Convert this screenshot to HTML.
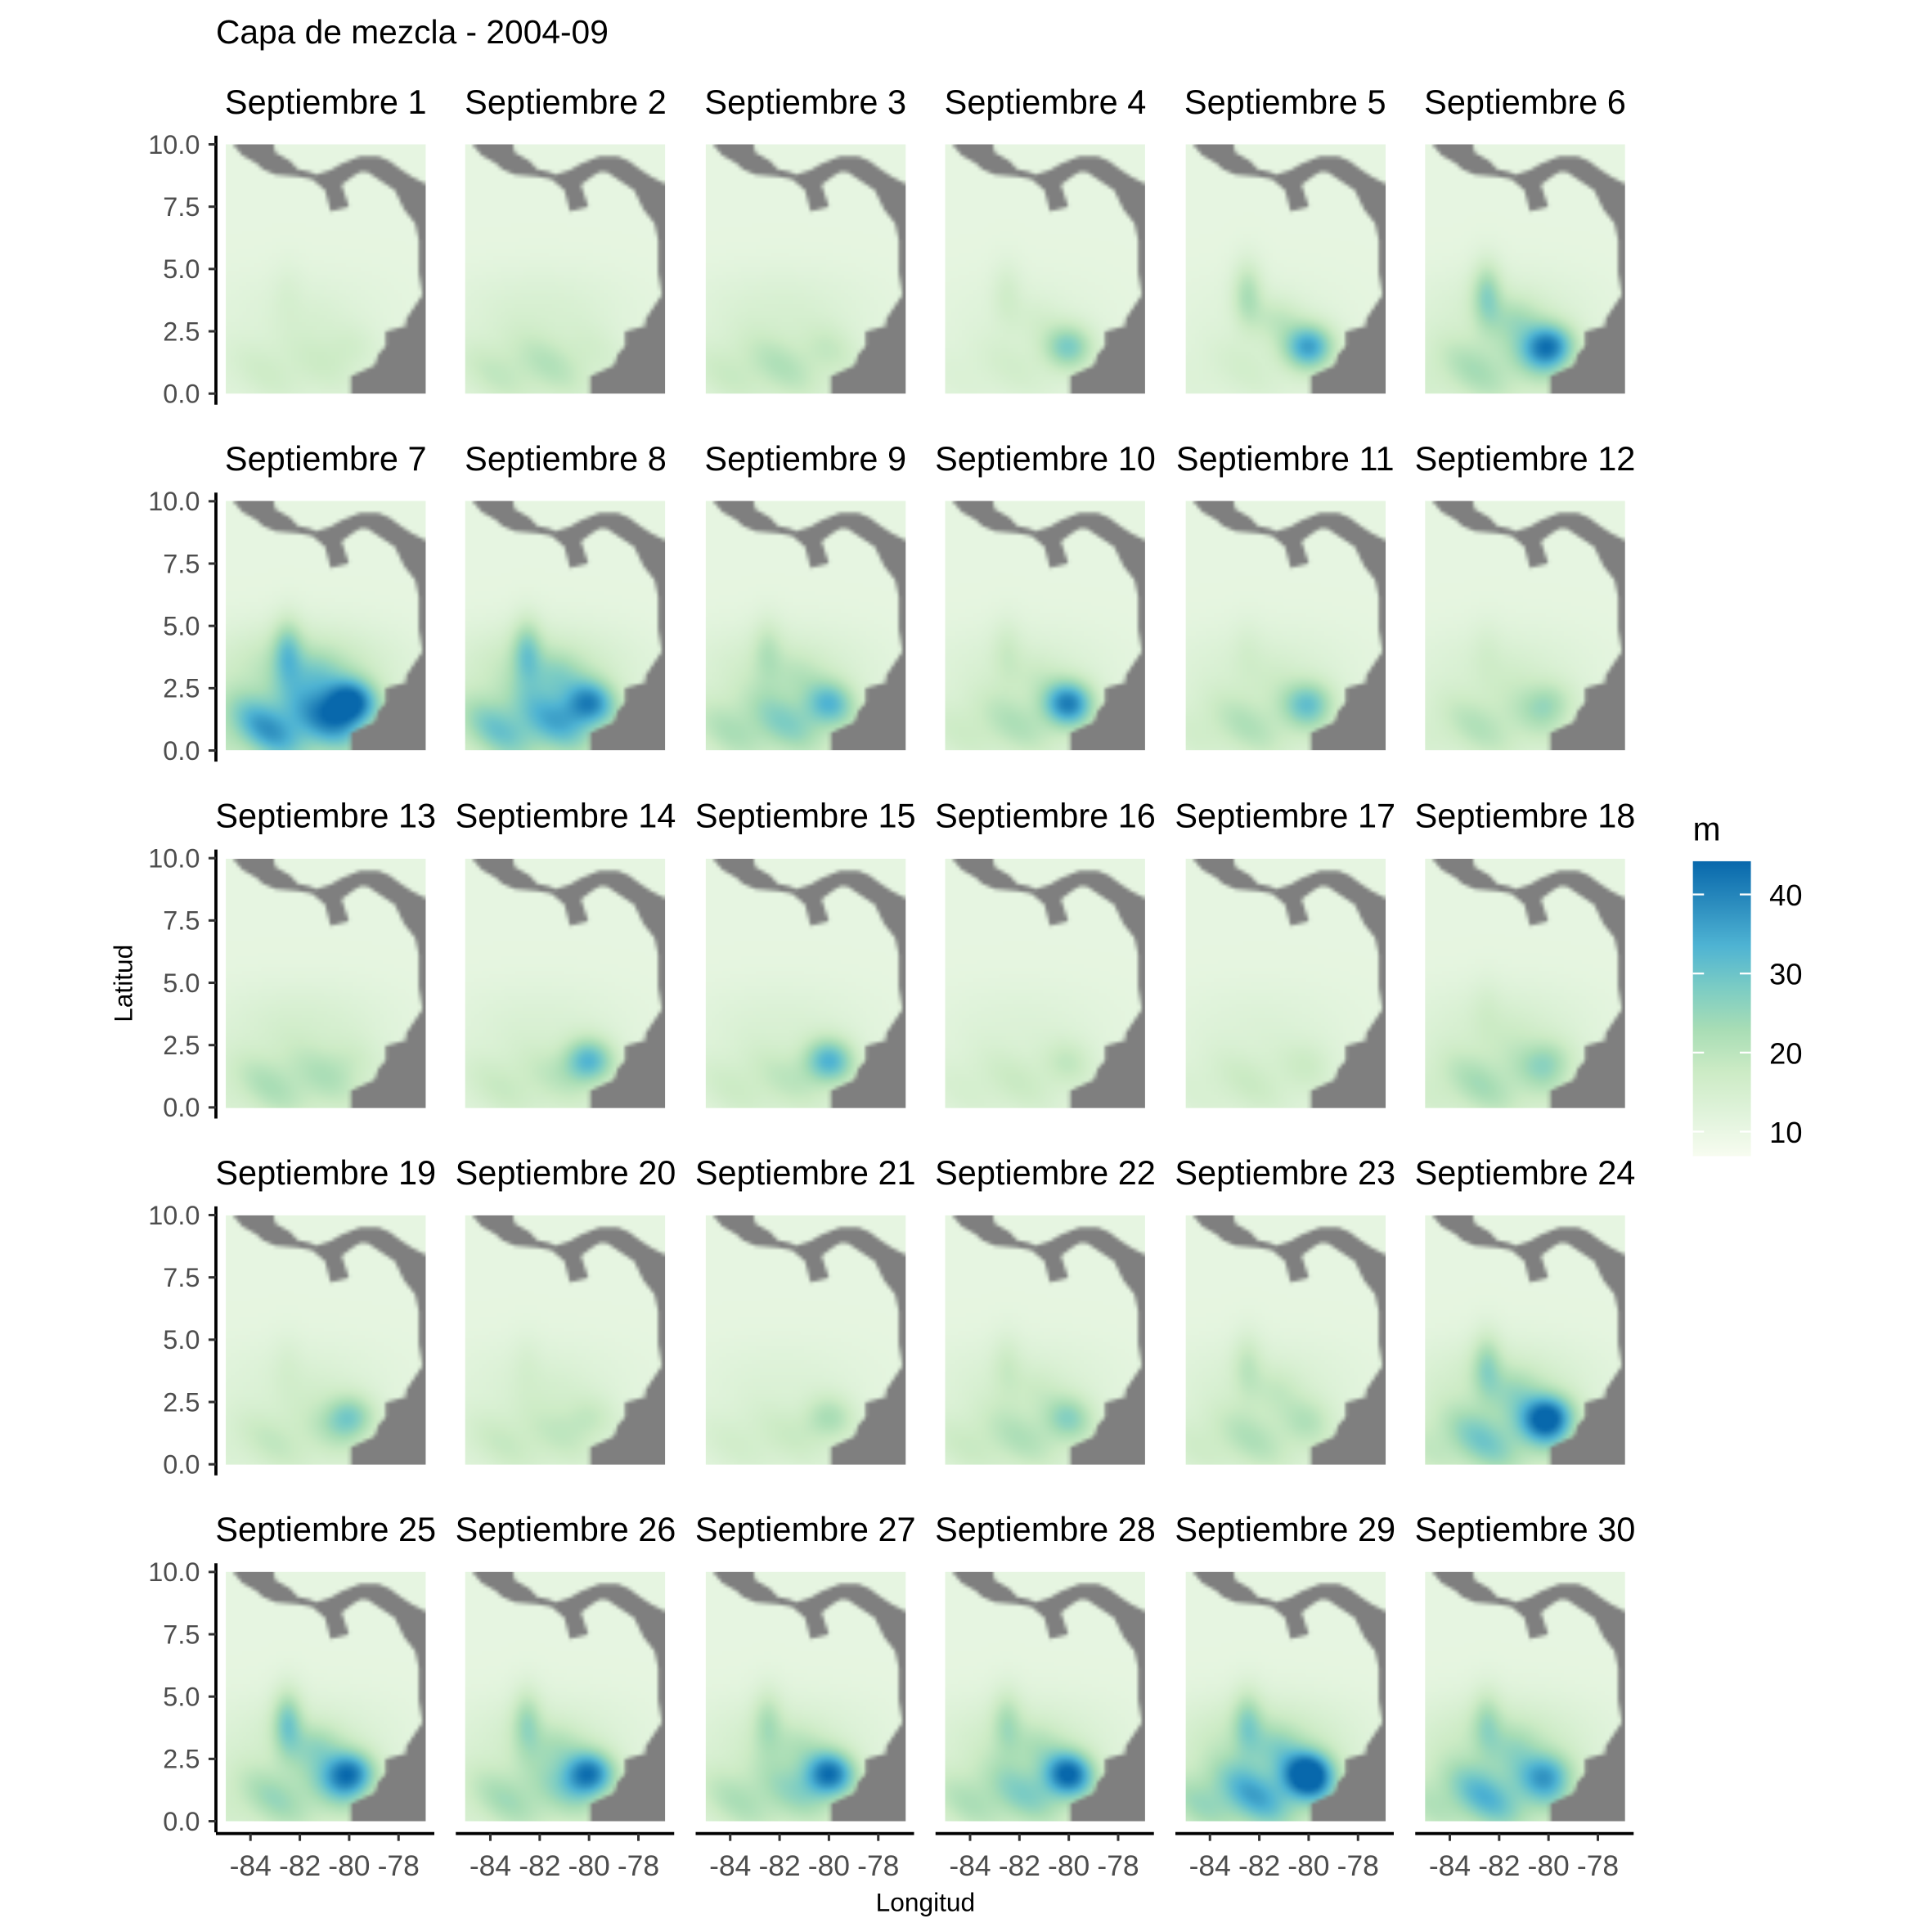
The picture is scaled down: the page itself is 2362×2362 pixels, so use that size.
<!DOCTYPE html>
<html><head><meta charset="utf-8">
<style>
html,body{margin:0;padding:0;background:#fff;width:2362px;height:2362px;overflow:hidden}
#wrap{position:absolute;left:0;top:0;width:1560px;height:1560px;transform:scale(1.5085);transform-origin:0 0;font-family:"Liberation Sans",sans-serif}
canvas{position:absolute;width:162px;height:202px;image-rendering:auto}
svg{position:absolute;left:0;top:0}
</style></head>
<body>
<div id="wrap">
<svg id="svg" width="1560" height="1560">
<text x="175" y="35" font-size="27" fill="#000">Capa de mezcla - 2004-09</text>
<text x="750" y="1549" font-size="21" fill="#000" text-anchor="middle">Longitud</text>
<text transform="translate(107,797) rotate(-90)" font-size="21" fill="#000" text-anchor="middle">Latitud</text>
<text x="1372" y="681" font-size="27" fill="#000">m</text>
</svg>
</div>
<script>
// per-day feature intensities (m)
const days = [1,2,3,4,5,6,7,8,9,10,11,12,13,14,15,16,17,18,19,20,21,22,23,24,25,26,27,28,29,30];
const bandDepth = [18,22,22,16,16,24,42,36,28,22,22,22,24,20,20,18,18,24,20,20,18,22,22,30,26,26,26,28,36,34];
const coastBlob = [14,12,14,26,34,38,40,32,26,36,26,20,14,30,30,16,14,20,26,16,20,22,16,40,38,38,38,38,42,26];
const plumeDepth = [12,10,10,14,20,22,22,22,16,14,12,12,10,10,10,10,10,12,12,12,10,14,16,20,24,20,18,18,20,18];
const yTicks = [0,2.5,5,7.5,10];
const yTickLabels = ["0.0","2.5","5.0","7.5","10.0"];
const xTicks = [-84,-82,-80,-78];
const legendTicks = [10,20,30,40];

const NS="http://www.w3.org/2000/svg";
const svg=document.getElementById('svg');
const wrap=document.getElementById('wrap');
const colStep=194.4,rowStep=289.25,px0=183,py0=117,PW=162,PH=202;
const vmin=6.9,vmax=44.2;
const pal=[[247,252,240],[224,243,219],[204,235,197],[168,221,181],[123,204,196],[78,179,211],[43,140,190],[8,104,172]];
function color(v){let t=(v-vmin)/(vmax-vmin);t=Math.max(0,Math.min(1,t));const f=t*(pal.length-1);const i=Math.min(pal.length-2,Math.floor(f));const u=f-i;const a=pal[i],b=pal[i+1];return `rgb(${Math.round(a[0]+(b[0]-a[0])*u)},${Math.round(a[1]+(b[1]-a[1])*u)},${Math.round(a[2]+(b[2]-a[2])*u)})`;}
function sx(lon,c){return px0+c*colStep+(lon+85)*20;}
function sy(lat,r){return py0+r*rowStep+(10-lat)*20.2;}
function el(tag,attrs,name,parent){const e=document.createElementNS(NS,tag);for(const k in attrs)e.setAttribute(k,attrs[k]);(parent||svg).appendChild(e);return e;}
const landZ=[[305,531],[415,531],[420,560],[460,590],[480,620],[515,630],[530,640],[570,625],[600,600],[650,575],[700,575],[730,590],[760,620],[790,650],[829,675],[829,1443],[625,1443],[625,1380],[690,1340],[700,1300],[720,1270],[720,1215],[775,1195],[775,1170],[800,1120],[820,1080],[810,1000],[810,880],[800,820],[770,770],[745,700],[700,660],[670,630],[650,630],[630,650],[600,680],[620,760],[570,775],[555,700],[520,660],[480,650],[420,640],[385,620],[370,600],[330,570]];
const land=landZ.map(p=>[(p[0]-285)/544,(p[1]-531)/912]);
function g(x,y,cx,cy,sx_,sy_){return Math.exp(-(((x-cx)/sx_)**2+((y-cy)/sy_)**2));}
const GW=54,GH=68;
days.forEach((d,i)=>{
  const c=i%6,r=Math.floor(i/6);
  const cv=document.createElement('canvas');cv.width=GW;cv.height=GH;
  cv.style.left=(px0+c*colStep)+'px';cv.style.top=(py0+r*rowStep)+'px';
  
  
  const ctx=cv.getContext('2d');
  const bA=bandDepth[i]-11,cA=coastBlob[i]-11,pA=plumeDepth[i]-10;
  for(let gy=0;gy<GH;gy++)for(let gx=0;gx<GW;gx++){
    const lon=-85+(gx+0.5)/GW*8.1, lat=10-(gy+0.5)/GH*10;
    let v=10.8;
    v+=bA*g(lon,lat,-82.3,1.0,3.2,1.5)*(0.85+0.15*Math.sin(lon*2.1+lat*1.7+i));
    v+=0.3*bA*g(lon,lat,-82,3.5,3.5,1.5);
    v+=cA*g(lon,lat,-80.0,1.9,1.0,0.9);
    v+=pA*(g(lon,lat,-82.5,4.0,0.6,1.3)+0.6*g(lon,lat,-81.3,3.0,1.0,0.9));
    ctx.fillStyle=color(v);ctx.fillRect(gx,gy,1,1);
  }
  ctx.fillStyle='#7f7f7f';ctx.beginPath();
  land.forEach((p,k)=>{const X=p[0]*GW,Y=p[1]*GH;k?ctx.lineTo(X,Y):ctx.moveTo(X,Y);});
  ctx.closePath();ctx.fill();
  wrap.insertBefore(cv,svg);
  const t=el('text',{x:px0+c*colStep+81,y:py0+r*rowStep-25,'font-size':27.5,'text-anchor':'middle',fill:'#000'},'strip-title-'+d);
  t.textContent='Septiembre '+d;
});
for(let r=0;r<5;r++){
  el('line',{x1:175,x2:175,y1:sy(10,r)-7,y2:sy(0,r)+9,stroke:'#000','stroke-width':2.5},'y-axis-line-row'+(r+1));
  yTicks.forEach((v,k)=>{
    el('line',{x1:169,x2:175,y1:sy(v,r),y2:sy(v,r),stroke:'#333','stroke-width':2},'y-tick');
    const t=el('text',{x:162,y:sy(v,r)+7.5,'font-size':21.5,'text-anchor':'end',fill:'#4d4d4d'},'y-tick-label');
    t.textContent=yTickLabels[k];
  });
}
for(let c=0;c<6;c++){
  const y0=1486;
  el('line',{x1:px0+c*colStep-8,x2:px0+c*colStep+169,y1:y0,y2:y0,stroke:'#000','stroke-width':2.5},'x-axis-line-col'+(c+1));
  xTicks.forEach(v=>{
    el('line',{x1:sx(v,c),x2:sx(v,c),y1:y0,y2:y0+6,stroke:'#333','stroke-width':2},'x-tick');
    const t=el('text',{x:sx(v,c),y:1520,'font-size':23.5,'text-anchor':'middle',fill:'#4d4d4d'},'x-tick-label');
    t.textContent=String(v);
  });
}
const lx=1372,lw=47,ltop=698,lbot=937;
const ly=v=>lbot-(v-vmin)/(vmax-vmin)*(lbot-ltop);
const defs=el('defs',{},'defs');
const lg=el('linearGradient',{id:'cb',x1:0,y1:1,x2:0,y2:0},'colorbar-gradient',defs);
pal.forEach((p,k)=>el('stop',{offset:k/(pal.length-1),'stop-color':`rgb(${p[0]},${p[1]},${p[2]})`},'gradient-stop',lg));
el('rect',{x:lx,y:ltop,width:lw,height:lbot-ltop,fill:'url(#cb)'},'colorbar');
legendTicks.forEach(v=>{
  el('line',{x1:lx,x2:lx+9,y1:ly(v),y2:ly(v),stroke:'#fff','stroke-width':1.5},'colorbar-tick');
  el('line',{x1:lx+lw-9,x2:lx+lw,y1:ly(v),y2:ly(v),stroke:'#fff','stroke-width':1.5},'colorbar-tick');
  const t=el('text',{x:1434,y:ly(v)+9,'font-size':24,fill:'#000'},'colorbar-label');
  t.textContent=String(v);
});
</script>
</body></html>
